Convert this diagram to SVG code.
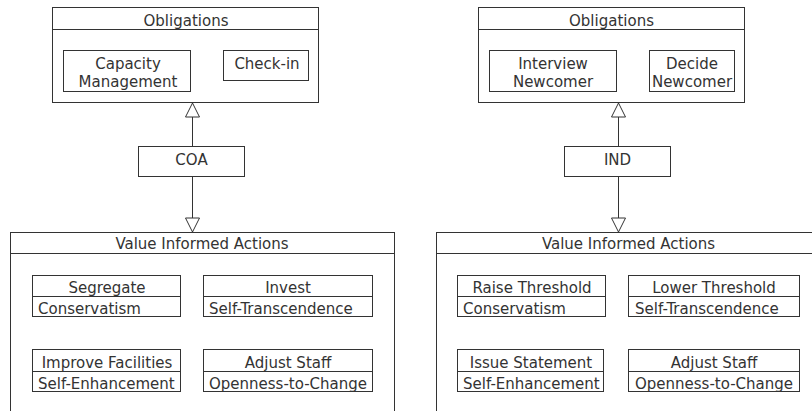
<svg xmlns="http://www.w3.org/2000/svg" width="812" height="411" viewBox="0 0 812 411">
  <style>
    .box { fill: #ffffff; stroke: #333333; stroke-width: 1; }
    .sep { stroke: #333333; stroke-width: 1; fill: none; }
    .lbl { font-family: "DejaVu Sans", Verdana, sans-serif; font-size: 15px; fill: #333333; }
    .c { text-anchor: middle; }
    .conn { stroke: #333333; stroke-width: 1; fill: none; marker-end: url(#tri); }
  </style>
  <defs>
    <marker id="tri" viewBox="0 0 14 14" markerWidth="14" markerHeight="14" refX="14" refY="7" orient="auto" markerUnits="userSpaceOnUse" overflow="visible">
      <path d="M0,0 L14,7 L0,14 Z" fill="#ffffff" stroke="#333333" stroke-width="1"/>
    </marker>
  </defs>
  <rect width="812" height="411" fill="#ffffff"/>

  <!-- Left model -->
  <g id="obligations-left">
    <rect class="box" x="52.5" y="7.5" width="266" height="95"/>
    <line class="sep" x1="52.5" y1="29.5" x2="318.5" y2="29.5"/>
    <text class="lbl c" x="186" y="26">Obligations</text>
  </g>
  <g id="capacity-management">
    <rect class="box" x="63.5" y="50.5" width="127" height="41"/>
    <text class="lbl c" x="128" y="69">Capacity</text>
    <text class="lbl c" x="128" y="86.5">Management</text>
  </g>
  <g id="check-in">
    <rect class="box" x="223.5" y="50.5" width="85" height="30"/>
    <text class="lbl c" x="267" y="69">Check-in</text>
  </g>
  <g id="coa">
    <rect class="box" x="138.5" y="146.5" width="106" height="30"/>
    <text class="lbl c" x="191.5" y="165">COA</text>
  </g>
  <g id="via-left">
    <rect class="box" x="10.5" y="232.5" width="384" height="200"/>
    <line class="sep" x1="10.5" y1="253.5" x2="394.5" y2="253.5"/>
    <text class="lbl c" x="202" y="249">Value Informed Actions</text>
  </g>
  <g id="segregate">
    <rect class="box" x="32.5" y="275.5" width="148" height="41"/>
    <line class="sep" x1="32.5" y1="296.5" x2="180.5" y2="296.5"/>
    <text class="lbl c" x="107" y="293">Segregate</text>
    <text class="lbl" x="38" y="314">Conservatism</text>
  </g>
  <g id="invest">
    <rect class="box" x="203.5" y="275.5" width="169" height="41"/>
    <line class="sep" x1="203.5" y1="296.5" x2="372.5" y2="296.5"/>
    <text class="lbl c" x="288" y="293">Invest</text>
    <text class="lbl" x="209" y="314">Self-Transcendence</text>
  </g>
  <g id="improve-facilities">
    <rect class="box" x="32.5" y="349.5" width="148" height="42"/>
    <line class="sep" x1="32.5" y1="371.5" x2="180.5" y2="371.5"/>
    <text class="lbl c" x="107" y="368">Improve Facilities</text>
    <text class="lbl" x="38" y="388.5">Self-Enhancement</text>
  </g>
  <g id="adjust-staff-left">
    <rect class="box" x="203.5" y="349.5" width="169" height="42"/>
    <line class="sep" x1="203.5" y1="371.5" x2="372.5" y2="371.5"/>
    <text class="lbl c" x="288" y="368">Adjust Staff</text>
    <text class="lbl" x="209" y="388.5">Openness-to-Change</text>
  </g>

  <!-- Right model -->
  <g id="obligations-right">
    <rect class="box" x="478.5" y="7.5" width="266" height="95"/>
    <line class="sep" x1="478.5" y1="29.5" x2="744.5" y2="29.5"/>
    <text class="lbl c" x="611.5" y="26">Obligations</text>
  </g>
  <g id="interview-newcomer">
    <rect class="box" x="489.5" y="50.5" width="127" height="41"/>
    <text class="lbl c" x="553" y="69">Interview</text>
    <text class="lbl c" x="553" y="86.5">Newcomer</text>
  </g>
  <g id="decide-newcomer">
    <rect class="box" x="649.5" y="50.5" width="85" height="41"/>
    <text class="lbl c" x="692" y="69">Decide</text>
    <text class="lbl c" x="692" y="86.5">Newcomer</text>
  </g>
  <g id="ind">
    <rect class="box" x="564.5" y="146.5" width="106" height="30"/>
    <text class="lbl c" x="617.5" y="165">IND</text>
  </g>
  <g id="via-right">
    <rect class="box" x="436.5" y="232.5" width="385" height="200"/>
    <line class="sep" x1="436.5" y1="253.5" x2="821.5" y2="253.5"/>
    <text class="lbl c" x="628.5" y="249">Value Informed Actions</text>
  </g>
  <g id="raise-threshold">
    <rect class="box" x="457.5" y="275.5" width="148" height="41"/>
    <line class="sep" x1="457.5" y1="296.5" x2="605.5" y2="296.5"/>
    <text class="lbl c" x="532" y="293">Raise Threshold</text>
    <text class="lbl" x="463" y="314">Conservatism</text>
  </g>
  <g id="lower-threshold">
    <rect class="box" x="628.5" y="275.5" width="171" height="41"/>
    <line class="sep" x1="628.5" y1="296.5" x2="799.5" y2="296.5"/>
    <text class="lbl c" x="714" y="293">Lower Threshold</text>
    <text class="lbl" x="635" y="314">Self-Transcendence</text>
  </g>
  <g id="issue-statement">
    <rect class="box" x="457.5" y="349.5" width="146" height="42"/>
    <line class="sep" x1="457.5" y1="371.5" x2="603.5" y2="371.5"/>
    <text class="lbl c" x="531" y="368">Issue Statement</text>
    <text class="lbl" x="463" y="388.5">Self-Enhancement</text>
  </g>
  <g id="adjust-staff-right">
    <rect class="box" x="628.5" y="349.5" width="171" height="42"/>
    <line class="sep" x1="628.5" y1="371.5" x2="799.5" y2="371.5"/>
    <text class="lbl c" x="714" y="368">Adjust Staff</text>
    <text class="lbl" x="635" y="388.5">Openness-to-Change</text>
  </g>

  <!-- Connectors: hollow-headed arrows from each action set outward -->
  <g id="connectors">
    <line class="conn" x1="192.5" y1="146.5" x2="192.5" y2="103"/>
    <line class="conn" x1="192.5" y1="176.5" x2="192.5" y2="232"/>
    <line class="conn" x1="618.5" y1="146.5" x2="618.5" y2="103"/>
    <line class="conn" x1="618.5" y1="176.5" x2="618.5" y2="232"/>
  </g>
</svg>
